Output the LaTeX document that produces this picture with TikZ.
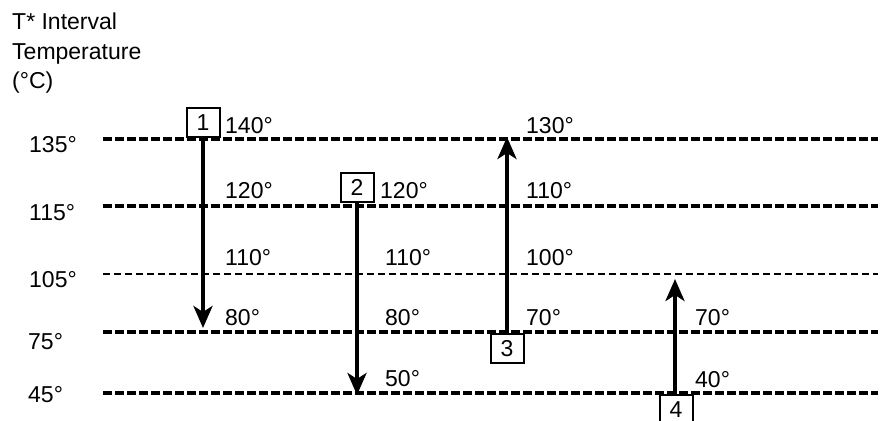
\documentclass[tikz,border=0pt]{standalone}
\usepackage{fontspec}
\setmainfont{Liberation Sans}
\usetikzlibrary{arrows.meta}
\tikzset{
  interval/.style={line width=3.6pt, dash pattern=on 8.5pt off 3.5pt},
  thininterval/.style={line width=2.6pt, dash pattern=on 7pt off 4pt},
  stream/.style={line width=4pt, -{Stealth[length=22pt,width=19pt,inset=6pt]}},
  streambox/.style={draw, line width=2pt, fill=white, minimum width=33pt, minimum height=29pt, inner sep=0pt},
  templabel/.style={anchor=base west, inner sep=0pt}
}
\begin{document}
\begin{tikzpicture}[x=1pt,y=-1pt,font=\fontsize{23}{29.5}\selectfont]
\useasboundingbox (0,0) rectangle (880,420);

\node[anchor=north west, align=left, inner sep=0pt] (title) at (12,13) {T* Interval\\Temperature\\(°C)};

% interval lines
\coordinate (a135) at (103,139); \coordinate (b135) at (878,139);
\coordinate (a115) at (103,206); \coordinate (b115) at (878,206);
\coordinate (a105) at (103,274); \coordinate (b105) at (878,274);
\coordinate (a75) at (103,332);  \coordinate (b75) at (878,332);
\coordinate (a45) at (103,393);  \coordinate (b45) at (878,393);
\draw[interval] (a135) -- (b135);
\draw[interval] (a115) -- (b115);
\draw[thininterval] (a105) -- (b105);
\draw[interval] (a75) -- (b75);
\draw[interval] (a45) -- (b45);

\node[templabel] (t135) at (29,152) {135°};
\node[templabel] (t115) at (29,220) {115°};
\node[templabel] (t105) at (29,287) {105°};
\node[templabel] (t75) at (28,349) {75°};
\node[templabel] (t45) at (28,402) {45°};

% streams
\node[streambox, anchor=south] (s1) at (203,138) {1};
\node[streambox, anchor=south] (s2) at (357,203) {2};
\node[streambox, anchor=north] (s3) at (507,333) {3};
\node[streambox, anchor=north] (s4) at (676,394) {4};

\coordinate (e1) at (203,328);
\coordinate (e2) at (357,395);
\coordinate (e3) at (507,137);
\coordinate (e4) at (675,279);
\draw[stream] (s1.south) -- (e1);
\draw[stream] (s2.south) -- (e2);
\draw[stream] (s3.north) -- (e3);
\draw[stream] (s4.north -| e4) -- (e4);

\node[templabel] (h1a) at (225,133) {140°};
\node[templabel] (h1b) at (225,198) {120°};
\node[templabel] (h1c) at (225,265) {110°};
\node[templabel] (h1d) at (225,325) {80°};

\node[templabel] (h2a) at (380,198) {120°};
\node[templabel] (h2b) at (385,265) {110°};
\node[templabel] (h2c) at (385,325) {80°};
\node[templabel] (h2d) at (385,386) {50°};

\node[templabel] (c3a) at (526,133) {130°};
\node[templabel] (c3b) at (526,198) {110°};
\node[templabel] (c3c) at (526,265) {100°};
\node[templabel] (c3d) at (526,325) {70°};

\node[templabel] (c4a) at (695,325) {70°};
\node[templabel] (c4b) at (695,387) {40°};
\end{tikzpicture}
\end{document}
